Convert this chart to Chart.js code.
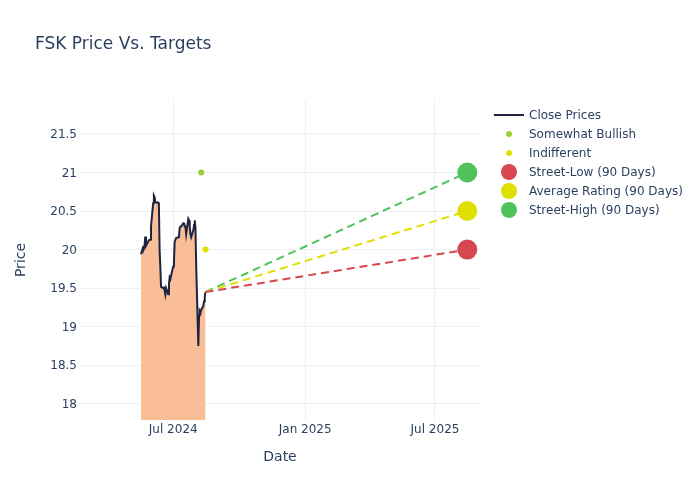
<!DOCTYPE html>
<html>
<head>
<meta charset="utf-8">
<script src="https://cdn.jsdelivr.net/npm/chart.js@4.4.1/dist/chart.umd.min.js"></script>
<style>
  html, body { margin: 0; padding: 0; background: #ffffff; }
  #wrap { width: 700px; height: 500px; }
</style>
</head>
<body>
<div id="wrap"><canvas id="chart" width="700" height="500"></canvas></div>
<script>
// ====================== DATA ======================
const closeDates = [
    '2024-05-17', '2024-05-20', '2024-05-21', '2024-05-22', '2024-05-23', '2024-05-24',
    '2024-05-28', '2024-05-29', '2024-05-30', '2024-05-31',
    '2024-06-03', '2024-06-04', '2024-06-05', '2024-06-06', '2024-06-07',
    '2024-06-10', '2024-06-11', '2024-06-12', '2024-06-13', '2024-06-14',
    '2024-06-17', '2024-06-18', '2024-06-20', '2024-06-21',
    '2024-06-24', '2024-06-25', '2024-06-26', '2024-06-27', '2024-06-28',
    '2024-07-01', '2024-07-02', '2024-07-03', '2024-07-05',
    '2024-07-08', '2024-07-09', '2024-07-10', '2024-07-11', '2024-07-12',
    '2024-07-15', '2024-07-16', '2024-07-17', '2024-07-18', '2024-07-19',
    '2024-07-22', '2024-07-23', '2024-07-24', '2024-07-25', '2024-07-26',
    '2024-07-29', '2024-07-30', '2024-07-31', '2024-08-01', '2024-08-02',
    '2024-08-05', '2024-08-06', '2024-08-07', '2024-08-08', '2024-08-09',
    '2024-08-12', '2024-08-13', '2024-08-14', '2024-08-15'
];
const closePrices = [
    19.94, 20.03, 20.02, 20.05, 20.17, 20.05,
    20.12, 20.12, 20.13, 20.30,
    20.60, 20.70, 20.68, 20.62, 20.61,
    20.61, 20.58, 20.00, 19.78, 19.52,
    19.50, 19.52, 19.42, 19.50,
    19.42, 19.55, 19.64, 19.62, 19.66,
    19.78, 19.85, 20.10, 20.15,
    20.16, 20.17, 20.28, 20.30, 20.30,
    20.34, 20.35, 20.30, 20.30, 20.20,
    20.40, 20.38, 20.30, 20.20, 20.16,
    20.25, 20.32, 20.38, 20.28, 19.80,
    18.75, 19.15, 19.20, 19.18, 19.22,
    19.27, 19.33, 19.40, 19.45
];

const ratingNames = ['Somewhat Bullish', 'Indifferent'];
const ratingDates = ['2024-08-09', '2024-08-15'];
const ratingPrices = [21, 20];

const targetNames = ['Street-Low (90 Days)', 'Average Rating (90 Days)', 'Street-High (90 Days)'];
const targetDate = '2025-08-15';
const targetPrices = [20, 20.5, 21];

const xTickDates = ['2024-07-01', '2025-01-01', '2025-07-01'];
const xTickLabels = ['Jul 2024', 'Jan 2025', 'Jul 2025'];
const yTicks = [18, 18.5, 19, 19.5, 20, 20.5, 21, 21.5];

// ====================== STYLE ======================
const FONT = 'DejaVu Sans';
const TEXT = '#2a3f5f';
const GRID = '#ebf0f8';
const ratingColors = ['#9acd32', '#e0e000'];
const targetColors = ['#d6474f', '#e0e000', '#4fc35a'];

const ts = d => Date.parse(d + 'T00:00:00Z');
const lastDate = closeDates[closeDates.length - 1];
const lastClose = closePrices[closePrices.length - 1];

// ====================== DATASETS ======================
const datasets = [];

datasets.push({
    label: 'Close Prices',
    data: closeDates.map((d, i) => ({ x: ts(d), y: closePrices[i] })),
    borderColor: '#1e2440',
    borderWidth: 2,
    backgroundColor: '#f9bd98',
    fill: 'start',
    pointRadius: 0,
    tension: 0,
    legendType: 'line',
    order: 5
});

ratingNames.forEach((name, i) => {
    datasets.push({
        label: name,
        data: [{ x: ts(ratingDates[i]), y: ratingPrices[i] }],
        showLine: false,
        pointRadius: 3,
        pointBorderWidth: 0,
        pointBackgroundColor: ratingColors[i],
        backgroundColor: ratingColors[i],
        borderColor: ratingColors[i],
        legendType: 'dot',
        legendRadius: 3,
        order: 1
    });
});

// dashed lines from the last close to each target
targetNames.forEach((name, i) => {
    datasets.push({
        label: name + ' line',
        data: [{ x: ts(lastDate), y: lastClose }, { x: ts(targetDate), y: targetPrices[i] }],
        borderColor: targetColors[i],
        borderWidth: 2,
        borderDash: [8, 5],
        pointRadius: 0,
        fill: false,
        order: 3
    });
});

targetNames.forEach((name, i) => {
    datasets.push({
        label: name,
        data: [{ x: ts(targetDate), y: targetPrices[i] }],
        showLine: false,
        pointRadius: 10,
        pointBorderWidth: 0,
        pointBackgroundColor: targetColors[i],
        backgroundColor: targetColors[i],
        borderColor: targetColors[i],
        legendType: 'dot',
        legendRadius: 8,
        order: 2
    });
});

// ====================== PLUGINS ======================
const titleAndLegend = {
    id: 'titleAndLegend',
    afterDraw(chart) {
        const ctx = chart.ctx;
        ctx.save();
        ctx.fillStyle = TEXT;
        ctx.textBaseline = 'middle';
        ctx.textAlign = 'left';
        ctx.font = `17px "${FONT}"`;
        ctx.fillText('FSK Price Vs. Targets', 35, 44.5);

        ctx.font = `12px "${FONT}"`;
        let row = 0;
        chart.data.datasets.forEach(ds => {
            if (!ds.legendType) return;
            const y = 115 + row * 19;
            if (ds.legendType === 'line') {
                ctx.strokeStyle = ds.borderColor;
                ctx.lineWidth = 2;
                ctx.beginPath();
                ctx.moveTo(494, y);
                ctx.lineTo(524, y);
                ctx.stroke();
            } else {
                ctx.fillStyle = ds.pointBackgroundColor;
                ctx.beginPath();
                ctx.arc(509, y, ds.legendRadius, 0, Math.PI * 2);
                ctx.fill();
            }
            ctx.fillStyle = TEXT;
            ctx.fillText(ds.label, 529, y + 1);
            row++;
        });
        ctx.restore();
    }
};

// ====================== CHART ======================
Chart.defaults.font.family = FONT;
Chart.defaults.color = TEXT;

new Chart(document.getElementById('chart').getContext('2d'), {
    type: 'line',
    data: { datasets },
    options: {
        responsive: false,
        animation: false,
        layout: { padding: { left: 0, top: 100, right: 220, bottom: 0 } },
        plugins: {
            legend: { display: false },
            title: { display: false },
            tooltip: { enabled: false }
        },
        scales: {
            x: {
                type: 'linear',
                min: Date.UTC(2024, 1, 22),
                max: Date.UTC(2025, 8, 1, 18),
                afterBuildTicks: s => { s.ticks = xTickDates.map(d => ({ value: ts(d) })); },
                afterFit: s => { s.height = 80; },
                ticks: {
                    autoSkip: false,
                    maxRotation: 0,
                    padding: 3,
                    color: TEXT,
                    font: { size: 12 },
                    callback: v => xTickLabels[xTickDates.findIndex(d => ts(d) === v)]
                },
                grid: { color: GRID, drawTicks: false },
                border: { display: false },
                title: {
                    display: true,
                    text: 'Date',
                    color: TEXT,
                    font: { size: 14 },
                    padding: { top: 0, bottom: 34.6 }
                }
            },
            y: {
                min: 17.79,
                max: 21.94,
                afterBuildTicks: s => { s.ticks = yTicks.map(v => ({ value: v })); },
                afterFit: s => { s.width = 80; },
                ticks: {
                    padding: 3,
                    labelOffset: 1,
                    color: TEXT,
                    font: { size: 12 },
                    callback: v => String(v)
                },
                grid: { color: GRID, drawTicks: false },
                border: { display: false },
                title: {
                    display: true,
                    text: 'Price',
                    color: TEXT,
                    font: { size: 14 },
                    padding: { top: 13, bottom: 0 }
                }
            }
        }
    },
    plugins: [titleAndLegend]
});
</script>
</body>
</html>
